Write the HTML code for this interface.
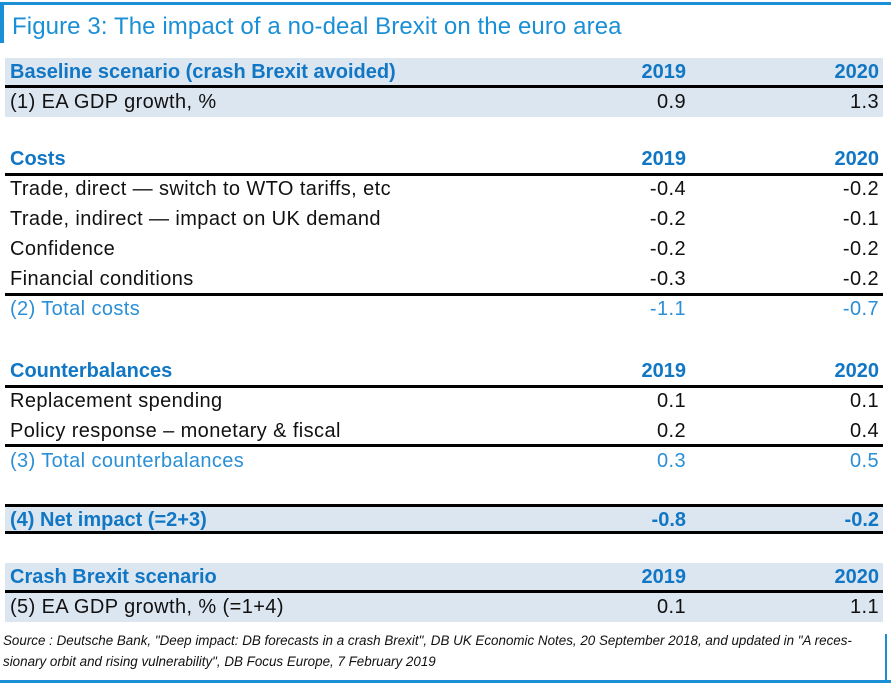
<!DOCTYPE html>
<html><head><meta charset="utf-8"><style>
body{margin:0;width:891px;height:685px;background:#fff;position:relative;overflow:hidden;font-family:"Liberation Sans",sans-serif;}
.abs{position:absolute}
.row{position:absolute;left:5px;width:878px;height:28px;font-size:20px;letter-spacing:0.4px;line-height:28px;color:#111;}
.row span{position:absolute;top:0}
.l{left:5px}.a{right:197px}.b{right:4px}
.bg{background:#dce6f1}
.h{color:#1177c4;font-weight:bold;letter-spacing:0}
.t{color:#2a8fd6}
.line{position:absolute;left:5px;width:878px;height:3px;background:#000}
</style></head><body>
<div class="abs" style="left:0;top:2px;width:891px;height:3px;background:#1a8fd6"></div>
<div class="abs" style="left:0;top:5px;width:4px;height:38px;background:#1a8fd6"></div>
<div class="abs" style="left:12px;top:13px;font-size:24px;letter-spacing:0.1px;color:#1a8fd6">Figure 3: The impact of a no-deal Brexit on the euro area</div>

<div class="row bg h" style="top:58px"><span class="l">Baseline scenario (crash Brexit avoided)</span><span class="a">2019</span><span class="b">2020</span></div>
<div class="line" style="top:85px"></div>
<div class="row bg" style="top:88px;height:29px"><span class="l">(1) EA GDP growth, %</span><span class="a">0.9</span><span class="b">1.3</span></div>

<div class="row h" style="top:145px"><span class="l">Costs</span><span class="a">2019</span><span class="b">2020</span></div>
<div class="line" style="top:173px"></div>
<div class="row" style="top:175px"><span class="l">Trade, direct — switch to WTO tariffs, etc</span><span class="a">-0.4</span><span class="b">-0.2</span></div>
<div class="row" style="top:205px"><span class="l">Trade, indirect — impact on UK demand</span><span class="a">-0.2</span><span class="b">-0.1</span></div>
<div class="row" style="top:235px"><span class="l">Confidence</span><span class="a">-0.2</span><span class="b">-0.2</span></div>
<div class="row" style="top:265px"><span class="l">Financial conditions</span><span class="a">-0.3</span><span class="b">-0.2</span></div>
<div class="line" style="top:293px"></div>
<div class="row t" style="top:295px"><span class="l">(2) Total costs</span><span class="a">-1.1</span><span class="b">-0.7</span></div>

<div class="row h" style="top:357px"><span class="l">Counterbalances</span><span class="a">2019</span><span class="b">2020</span></div>
<div class="line" style="top:385px"></div>
<div class="row" style="top:387px"><span class="l">Replacement spending</span><span class="a">0.1</span><span class="b">0.1</span></div>
<div class="row" style="top:417px"><span class="l">Policy response – monetary &amp; fiscal</span><span class="a">0.2</span><span class="b">0.4</span></div>
<div class="line" style="top:444px"></div>
<div class="row t" style="top:447px"><span class="l">(3) Total counterbalances</span><span class="a">0.3</span><span class="b">0.5</span></div>

<div class="line" style="top:504px"></div>
<div class="row bg h" style="top:507px;height:24px;line-height:26px"><span class="l">(4) Net impact (=2+3)</span><span class="a">-0.8</span><span class="b">-0.2</span></div>
<div class="line" style="top:531px"></div>

<div class="row bg h" style="top:563px"><span class="l">Crash Brexit scenario</span><span class="a">2019</span><span class="b">2020</span></div>
<div class="line" style="top:590px"></div>
<div class="row bg" style="top:593px;height:29px"><span class="l">(5) EA GDP growth, % (=1+4)</span><span class="a">0.1</span><span class="b">1.1</span></div>

<div class="abs" style="left:3px;top:630px;width:880px;font-size:13.4px;line-height:21px;font-style:italic;color:#111;white-space:nowrap">Source : Deutsche Bank, "Deep impact: DB forecasts in a crash Brexit", DB UK Economic Notes, 20 September 2018, and updated in "A reces-<br>sionary orbit and rising vulnerability", DB Focus Europe, 7 February 2019</div>
<div class="abs" style="left:885px;top:634px;width:2px;height:46px;background:#1a8fd6"></div>
<div class="abs" style="left:0;top:680px;width:891px;height:3px;background:#1a8fd6"></div>
</body></html>
